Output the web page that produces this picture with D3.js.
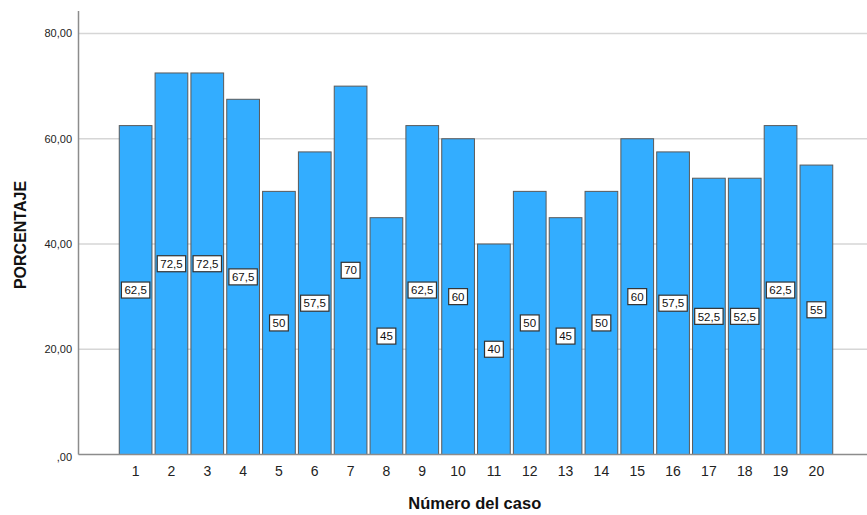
<!DOCTYPE html>
<html><head><meta charset="utf-8">
<script src="https://cdn.jsdelivr.net/npm/d3@7"></script>
<style>body{margin:0;background:#fff;}svg{display:block;font-family:Arial,"Liberation Sans",sans-serif;}</style>
</head><body><svg id="c" width="867" height="515"></svg>
<script>
const categories = ["1","2","3","4","5","6","7","8","9","10","11","12","13","14","15","16","17","18","19","20"];
const values = [62.5,72.5,72.5,67.5,50,57.5,70,45,62.5,60,40,50,45,50,60,57.5,52.5,52.5,62.5,55];
const yTicks = [0,20,40,60,80];
const yTickLabels = [",00","20,00","40,00","60,00","80,00"];
const xTitle = "Número del caso";
const yTitle = "PORCENTAJE";

(function(){
const svg = d3.select("#c");
const pLeft = 78.5, pRight = 867, pTop = 11, pBottom = 454.5;
const y = d3.scaleLinear().domain([0,80]).range([pBottom, 33.5]);
const x = d3.scaleBand().domain(categories).range([117.7, 834.3]).paddingInner(0.087).paddingOuter(0.0435);

// gridlines
svg.append("g").selectAll("line").data(yTicks.filter(d=>d>0)).join("line")
  .attr("x1", pLeft).attr("x2", pRight).attr("y1", d=>y(d)).attr("y2", d=>y(d))
  .attr("stroke", "#d6d6d6").attr("stroke-width", 1.5);

// bars
svg.append("g").selectAll("rect").data(values).join("rect")
  .attr("x", (d,i)=>x(categories[i])).attr("width", x.bandwidth())
  .attr("y", d=>y(d)).attr("height", d=>pBottom - y(d))
  .attr("fill", "#33adff").attr("stroke", "#5a5a5a").attr("stroke-width", 1);

// axes lines
svg.append("line").attr("x1", pLeft).attr("x2", pLeft).attr("y1", pTop).attr("y2", pBottom)
  .attr("stroke", "#8c8c8c").attr("stroke-width", 1.5);
svg.append("line").attr("x1", pLeft).attr("x2", pRight).attr("y1", pBottom).attr("y2", pBottom)
  .attr("stroke", "#8c8c8c").attr("stroke-width", 1.5);

// y tick labels
svg.append("g").selectAll("text").data(yTicks).join("text")
  .attr("x", 72).attr("y", d=>y(d)).attr("dy", d=> d===0 ? "0.55em" : "0.35em")
  .attr("text-anchor", "end").attr("font-size", 11).attr("fill", "#222")
  .text((d,i)=>yTickLabels[i]);

// x tick labels
svg.append("g").selectAll("text").data(categories).join("text")
  .attr("x", d=>x(d)+x.bandwidth()/2).attr("y", 476)
  .attr("text-anchor", "middle").attr("font-size", 14).attr("fill", "#222")
  .text(d=>d);

// value labels
const lg = svg.append("g").selectAll("g").data(values).join("g")
  .attr("transform", (d,i)=>`translate(${x(categories[i])+x.bandwidth()/2},${y(d/2)})`);
lg.each(function(d){
  const g = d3.select(this);
  const txt = String(d).replace(".", ",");
  const t = g.append("text").attr("text-anchor","middle").attr("dy","0.36em")
    .attr("font-size", 11.5).attr("fill","#111").text(txt);
  const w = t.node().getComputedTextLength() + 6;
  g.insert("rect","text").attr("x", -w/2).attr("y", -8).attr("width", w).attr("height", 16)
    .attr("fill","#fff").attr("stroke","#333").attr("stroke-width",1.2);
});

// titles
svg.append("text").attr("x", (pLeft+pRight)/2 + 2).attr("y", 509).attr("text-anchor","middle")
  .attr("font-size", 16.5).attr("font-weight","bold").attr("fill","#111").text(xTitle);
svg.append("text").attr("transform", "translate(26,235) rotate(-90)").attr("text-anchor","middle")
  .attr("font-size", 16).attr("font-weight","bold").attr("fill","#111").text(yTitle);
})();
</script></body></html>
